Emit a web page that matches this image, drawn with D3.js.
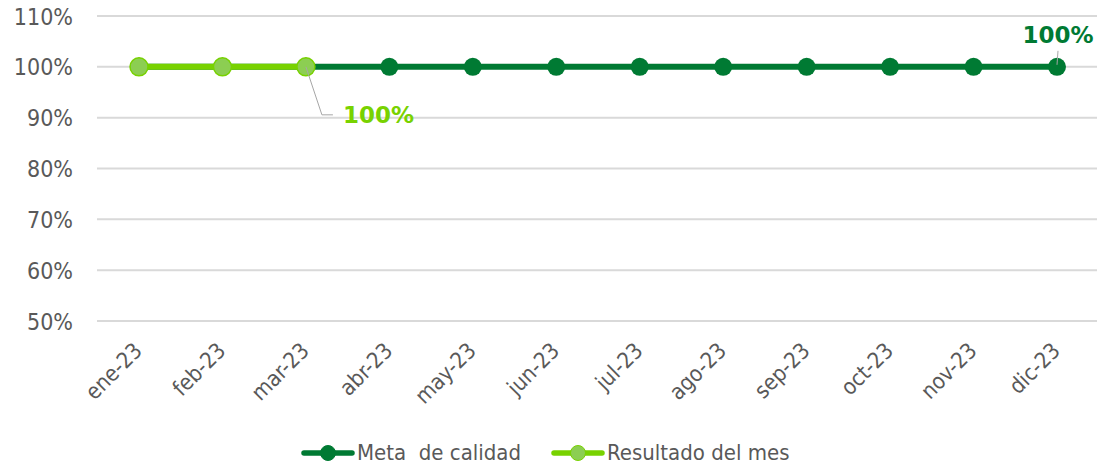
<!DOCTYPE html>
<html>
<head>
<meta charset="utf-8">
<script src="https://cdn.jsdelivr.net/npm/d3@7"></script>
<style>
  body { margin: 0; background: #fff; }
  svg { display: block; }
  .lbl { font-family: "DejaVu Sans Condensed", "DejaVu Sans", sans-serif; font-stretch: condensed; }
  .bold { font-family: "DejaVu Sans", sans-serif; font-weight: bold; }
</style>
</head>
<body>
<svg width="1097" height="468"></svg>
<script>
var months = ["ene-23", "feb-23", "mar-23", "abr-23", "may-23", "jun-23", "jul-23", "ago-23", "sep-23", "oct-23", "nov-23", "dic-23"];
var meta = [1, 1, 1, 1, 1, 1, 1, 1, 1, 1, 1, 1];
var resultado = [1, 1, 1];
var yTicks = [0.5, 0.6, 0.7, 0.8, 0.9, 1.0, 1.1];
var seriesNames = ["Meta  de calidad", "Resultado del mes"];

var darkGreen = "#007a33";
var lightGreen = "#78d200";
var lightFill = "#8cce52";
var textColor = "#595959";
var pct = d3.format(".0%");

var svg = d3.select("svg");

var x = d3.scalePoint().domain(months).range([139, 1057]);
var y = d3.scaleLinear().domain([0.5, 1.1]).range([321, 16]);

// gridlines
svg.append("g").selectAll("line").data(yTicks).enter()
  .append("line")
  .attr("x1", 97).attr("x2", 1097)
  .attr("y1", function (d) { return y(d); })
  .attr("y2", function (d) { return y(d); })
  .attr("stroke", "#d9d9d9")
  .attr("stroke-width", 2);

// y axis labels
var yAxis = d3.axisLeft(y).tickValues(yTicks).tickFormat(pct).tickSize(0).tickPadding(0);
var gy = svg.append("g").attr("transform", "translate(73,0)").call(yAxis);
gy.select(".domain").remove();
gy.attr("font-family", null).attr("font-size", null);
gy.selectAll("text")
  .attr("class", "lbl")
  .attr("font-size", 23)
  .attr("fill", textColor)
  .attr("dy", "0.35em");

// x axis labels
var xAxis = d3.axisBottom(x).tickSize(0).tickPadding(0);
var gx = svg.append("g").attr("transform", "translate(0,321)").call(xAxis);
gx.select(".domain").remove();
gx.attr("font-family", null).attr("font-size", null);
gx.selectAll("text")
  .attr("class", "lbl")
  .attr("font-size", 22)
  .attr("fill", textColor)
  .attr("text-anchor", "end")
  .attr("dy", null)
  .attr("y", 0)
  .attr("transform", "translate(4,31) rotate(-45)");

var line = d3.line()
  .x(function (d, i) { return x(months[i]); })
  .y(function (d) { return y(d); });

// meta line
svg.append("path").datum(meta)
  .attr("d", line)
  .attr("fill", "none")
  .attr("stroke", darkGreen)
  .attr("stroke-width", 6);

svg.append("g").selectAll("circle").data(meta).enter()
  .append("circle")
  .attr("cx", function (d, i) { return x(months[i]); })
  .attr("cy", function (d) { return y(d); })
  .attr("r", 9)
  .attr("fill", darkGreen);

// resultado line
svg.append("path").datum(resultado)
  .attr("d", line)
  .attr("fill", "none")
  .attr("stroke", lightGreen)
  .attr("stroke-width", 6);

svg.append("g").selectAll("circle").data(resultado).enter()
  .append("circle")
  .attr("cx", function (d, i) { return x(months[i]); })
  .attr("cy", function (d) { return y(d); })
  .attr("r", 9)
  .attr("fill", lightFill)
  .attr("stroke", lightGreen)
  .attr("stroke-width", 1.5);

// data labels
var lastMeta = meta.length - 1;
var mx = x(months[lastMeta]), my = y(meta[lastMeta]);
svg.append("line")
  .attr("x1", mx).attr("y1", my - 2)
  .attr("x2", mx + 1).attr("y2", my - 16)
  .attr("stroke", "#a6a6a6").attr("stroke-width", 1);
svg.append("text")
  .attr("class", "bold")
  .attr("x", mx + 1).attr("y", my - 24)
  .attr("text-anchor", "middle")
  .attr("font-size", 23)
  .attr("fill", darkGreen)
  .text(pct(meta[lastMeta]));

var lastRes = resultado.length - 1;
var rx = x(months[lastRes]), ry = y(resultado[lastRes]);
svg.append("polyline")
  .attr("points", [[rx, ry], [rx + 16, ry + 48], [rx + 27, ry + 48]].join(" "))
  .attr("fill", "none")
  .attr("stroke", "#a6a6a6").attr("stroke-width", 1);
svg.append("text")
  .attr("class", "bold")
  .attr("x", rx + 37).attr("y", ry + 56)
  .attr("text-anchor", "start")
  .attr("font-size", 23)
  .attr("fill", lightGreen)
  .text(pct(resultado[lastRes]));

// legend
var legendItems = [
  { name: seriesNames[0], stroke: darkGreen, fill: darkGreen, x: 304 },
  { name: seriesNames[1], stroke: lightGreen, fill: lightFill, x: 554 }
];
var lg = svg.append("g").selectAll("g").data(legendItems).enter()
  .append("g")
  .attr("transform", function (d) { return "translate(" + d.x + ",453)"; });
lg.append("line")
  .attr("x1", 0).attr("x2", 48)
  .attr("stroke", function (d) { return d.stroke; })
  .attr("stroke-width", 5.5)
  .attr("stroke-linecap", "round");
lg.append("circle")
  .attr("cx", 24).attr("r", 7.5)
  .attr("fill", function (d) { return d.fill; })
  .attr("stroke", function (d) { return d.stroke; })
  .attr("stroke-width", 1);
lg.append("text")
  .attr("class", "lbl")
  .attr("x", 53).attr("y", -1).attr("dy", "0.35em")
  .attr("font-size", 22)
  .attr("fill", textColor)
  .style("white-space", "pre")
  .text(function (d) { return d.name; });
</script>
</body>
</html>
